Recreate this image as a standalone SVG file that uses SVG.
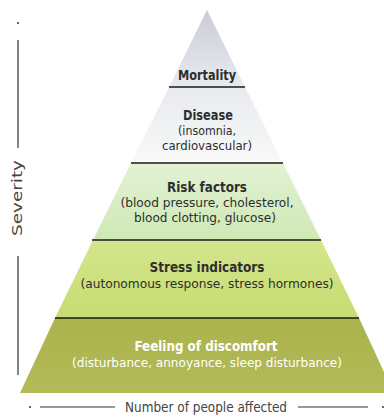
<svg xmlns="http://www.w3.org/2000/svg" width="384" height="417" viewBox="0 0 384 417">
<defs>
<linearGradient id="gTop" x1="0" y1="10" x2="0" y2="163" gradientUnits="userSpaceOnUse">
<stop offset="0" stop-color="#c9ccd8"/>
<stop offset="0.45" stop-color="#e6e8ee"/>
<stop offset="1" stop-color="#f8f9f7"/>
</linearGradient>
<linearGradient id="gRisk" x1="0" y1="163" x2="0" y2="240" gradientUnits="userSpaceOnUse">
<stop offset="0" stop-color="#e2f2d4"/>
<stop offset="1" stop-color="#cfe8b4"/>
</linearGradient>
<linearGradient id="gStress" x1="0" y1="240" x2="0" y2="318" gradientUnits="userSpaceOnUse">
<stop offset="0" stop-color="#d4e68e"/>
<stop offset="1" stop-color="#c6dc70"/>
</linearGradient>
<linearGradient id="gFeel" x1="0" y1="318" x2="0" y2="393" gradientUnits="userSpaceOnUse">
<stop offset="0" stop-color="#aab34c"/>
<stop offset="1" stop-color="#b3ba58"/>
</linearGradient>
<style>
.t{font-family:"DejaVu Sans Condensed","DejaVu Sans","Liberation Sans",sans-serif;fill:#2e2e2e;text-anchor:middle}
.h{font-weight:bold;font-size:14px}
.s{font-size:12px}
.w{fill:#ffffff}
.sep{stroke:#1a1a1a;stroke-width:1.6}
.ax{stroke:#333;stroke-width:1.2}
.ax-t{font-family:"DejaVu Sans Condensed","DejaVu Sans","Liberation Sans",sans-serif;fill:#444;font-size:13.5px;text-anchor:middle}
</style>
</defs>
<rect width="384" height="417" fill="#ffffff"/>

<g id="mortality">
<polygon points="207,10 245,87 169,87" fill="url(#gTop)"/>
<text class="t h" x="207" y="80" textLength="58" lengthAdjust="spacingAndGlyphs">Mortality</text>
</g>
<g id="disease">
<polygon points="169,87 245,87 283,163 131,163" fill="url(#gTop)"/>
<text class="t h" x="208" y="120" textLength="50" lengthAdjust="spacingAndGlyphs">Disease</text>
<text class="t s" x="207" y="135" textLength="58" lengthAdjust="spacingAndGlyphs">(insomnia,</text>
<text class="t s" x="207" y="149.5" textLength="90" lengthAdjust="spacingAndGlyphs">cardiovascular)</text>
</g>
<g id="risk-factors">
<polygon points="131,163 283,163 321,240 93,240" fill="url(#gRisk)"/>
<text class="t h" x="207" y="192" textLength="80" lengthAdjust="spacingAndGlyphs">Risk factors</text>
<text class="t s" x="207" y="207" textLength="173" lengthAdjust="spacingAndGlyphs">(blood pressure, cholesterol,</text>
<text class="t s" x="205" y="221.5" textLength="142" lengthAdjust="spacingAndGlyphs">blood clotting, glucose)</text>
</g>
<g id="stress-indicators">
<polygon points="93,240 321,240 359,318 55,318" fill="url(#gStress)"/>
<text class="t h" x="207" y="272" textLength="115" lengthAdjust="spacingAndGlyphs">Stress indicators</text>
<text class="t s" x="207" y="287.5" textLength="253" lengthAdjust="spacingAndGlyphs">(autonomous response, stress hormones)</text>
</g>
<g id="feeling-of-discomfort">
<polygon points="55,318 359,318 384,372 384,393 20,393" fill="url(#gFeel)"/>
<text class="t h w" x="206" y="351" textLength="143" lengthAdjust="spacingAndGlyphs">Feeling of discomfort</text>
<text class="t s w" x="207" y="366.5" textLength="270" lengthAdjust="spacingAndGlyphs">(disturbance, annoyance, sleep disturbance)</text>
</g>

<g id="connectors">
<line class="sep" x1="169" y1="87" x2="245" y2="87"/>
<line class="sep" x1="131" y1="163" x2="283" y2="163"/>
<line class="sep" x1="92" y1="240" x2="321" y2="240"/>
<line class="sep" x1="55" y1="318" x2="359" y2="318"/>
</g>

<g id="severity-axis">
<circle cx="18" cy="23" r="1" fill="#333"/>
<line class="ax" x1="18" y1="40" x2="18" y2="148"/>
<text class="ax-t" transform="translate(22,198) rotate(-90)" textLength="76" lengthAdjust="spacingAndGlyphs">Severity</text>
<line class="ax" x1="18" y1="256" x2="18" y2="375"/>
</g>
<g id="people-axis">
<circle cx="30" cy="407" r="1" fill="#333"/>
<line class="ax" x1="40" y1="407" x2="115" y2="407"/>
<text class="ax-t" x="206" y="412" textLength="162" lengthAdjust="spacingAndGlyphs">Number of people affected</text>
<line class="ax" x1="298" y1="407" x2="368" y2="407"/>
<circle cx="383" cy="407" r="1" fill="#333"/>
</g>
</svg>
